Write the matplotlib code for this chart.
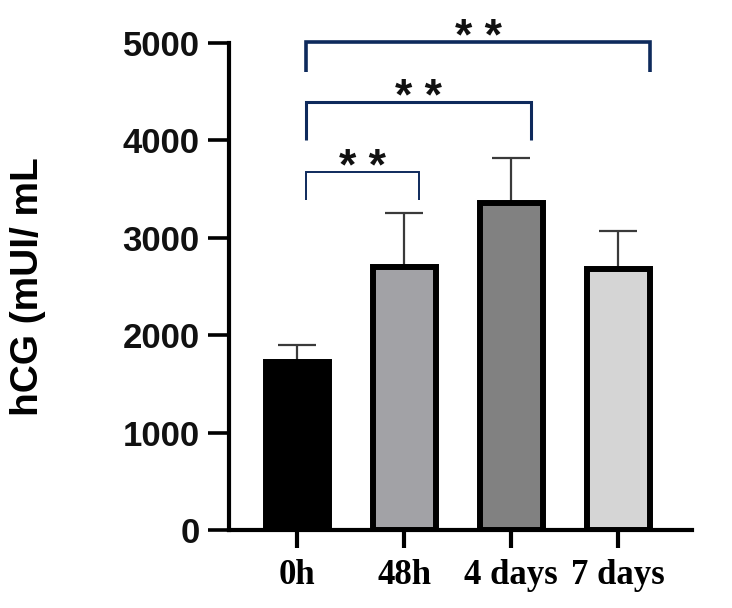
import matplotlib.pyplot as plt
import numpy as np

# data
groups = ["0h", "48h", "4 days", "7 days"]
means = [1725, 2700, 3357, 2680]
sd_upper = [175, 555, 465, 390]
bar_colors = ["#000000", "#a2a2a6", "#818181", "#d5d5d5"]

# significance comparisons (group index pairs), bracket height, leg bottoms
pairs = [(0, 1), (0, 2), (0, 3)]
bracket_y = [3676, 4394, 5010]
leg_bottom = [3388, 4004, 4702]
labels_sig = ["* *", "* *", "* *"]
bracket_lw = [1.4, 2.2, 2.6]
leg_shift = [(0.08, 0.14), (0.08, 0.18), (0.08, 0.30)]

fig = plt.figure(figsize=(7.32, 6.08), dpi=100)
ax = fig.add_axes([0.3128, 0.1283, 0.6326, 0.801])

x = np.arange(len(groups))
ax.bar(x, means, width=0.59, color=bar_colors, edgecolor="black", linewidth=4.3, zorder=3)
ax.errorbar(x, means, yerr=[np.zeros(len(means)), sd_upper], fmt="none",
            ecolor="#3a3a3a", elinewidth=1.6, capsize=13.5, capthick=1.6, zorder=2)

navy = "#0e2a5c"
for (a, b), yb, yl, lw, (sa, sb), lab in zip(pairs, bracket_y, leg_bottom, bracket_lw, leg_shift, labels_sig):
    xa, xb = x[a] + sa, x[b] + sb
    ax.plot([xa, xa, xb, xb], [yl, yb, yb, yl], color=navy, lw=lw,
            solid_joinstyle="miter", solid_capstyle="butt", clip_on=False, zorder=4)
    ax.text((xa + xb) / 2, yb - 80, lab, ha="center", va="baseline",
            fontsize=32, fontweight="bold", family="Liberation Sans",
            color="#111111", clip_on=False)

ax.set_xlim(-0.64, 3.69)
ax.set_ylim(0, 5000)
ax.set_yticks([0, 1000, 2000, 3000, 4000, 5000])
ax.set_xticks(x)
ax.set_xticklabels(groups, family="Liberation Serif", fontweight="bold", fontsize=25)
for lab in ax.get_yticklabels():
    lab.set_family("Liberation Sans")
    lab.set_fontweight("bold")
    lab.set_fontsize(25)
    lab.set_color("#111111")

for s in ["top", "right"]:
    ax.spines[s].set_visible(False)
for s in ["left", "bottom"]:
    ax.spines[s].set_linewidth(3)
ax.tick_params(axis="y", length=15, width=2.6, pad=6)
ax.tick_params(axis="x", length=13, width=3, pad=8)

ax.set_ylabel("hCG (mUI/ mL", fontsize=28, fontweight="bold", family="Liberation Sans")
ax.yaxis.set_label_coords(-0.395, 0.5)

fig.savefig("out.png", dpi=100)
